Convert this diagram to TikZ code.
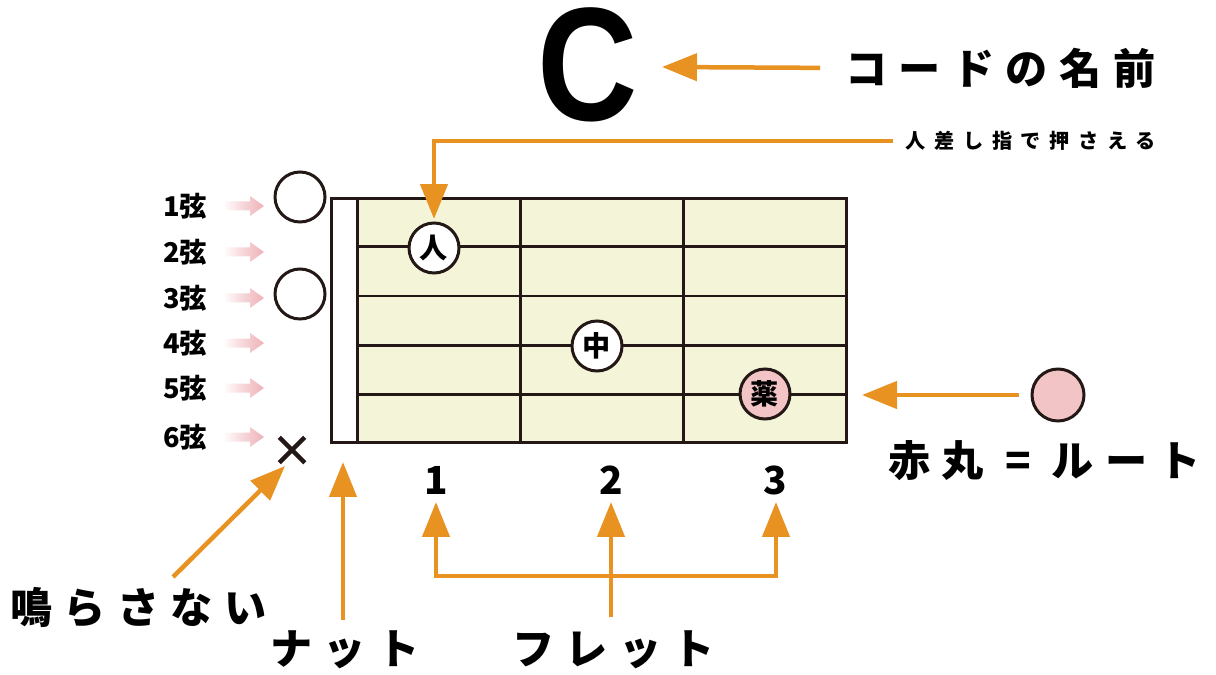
\documentclass[tikz,border=0pt]{standalone}
\usepackage{fontspec}
\setmainfont{Noto Sans CJK JP}
\newfontfamily\chordfont{Liberation Sans}
\usetikzlibrary{arrows.meta,shapes.misc}

\definecolor{fretorange}{RGB}{232,146,34}
\definecolor{boardfill}{RGB}{244,245,216}
\definecolor{inkbrown}{RGB}{35,24,21}
\definecolor{rootpink}{RGB}{242,196,198}
\definecolor{arrowpink}{RGB}{238,178,184}

% pink arrow pointing at a string, #1 = y
\newcommand{\stringarrow}[1]{%
    \shade[left color=white, right color=arrowpink, middle color=arrowpink!55]
        (223,#1-4.5) -- (250,#1-4.5) -- (250,#1-10) -- (264,#1) -- (250,#1+10) -- (250,#1+4.5) -- (223,#1+4.5) -- cycle;}

\tikzset{
    >={Triangle[length=0.7cm, width=0.54cm]},
    fretline/.style={inkbrown, line width=0.06cm},
    finger/.style={circle, draw=inkbrown, line width=0.06cm, fill=white, minimum size=1cm, inner sep=0pt, font=\fontsize{16}{16}\selectfont\bfseries},
    opencircle/.style={circle, draw=inkbrown, line width=0.06cm, minimum size=1cm, inner sep=0pt},
    mutemark/.style={cross out, draw=inkbrown, line width=0.09cm, minimum size=0.42cm, inner sep=0pt},
    callout/.style={fretorange, line width=0.09cm},
    biglabel/.style={anchor=west, inner sep=0pt, font=\fontsize{24}{24}\selectfont\bfseries\addfontfeature{LetterSpace=27}},
    smalllabel/.style={anchor=west, inner sep=0pt, font=\fontsize{11.5}{11.5}\selectfont\bfseries\addfontfeature{LetterSpace=43}},
    stringlabel/.style={inner sep=0pt, font=\fontsize{15.5}{15.5}\selectfont\bfseries},
    fretnum/.style={inner sep=0pt, font=\fontsize{22}{22}\selectfont\bfseries},
}

\begin{document}
\begin{tikzpicture}[x=0.02cm, y=-0.02cm]
        \useasboundingbox (0,0) rectangle (1216,675);

        % Board
        \fill[boardfill] (357,199) rectangle (846,442);
        \draw[fretline] (331,199) rectangle (846,442);
        \draw[fretline] (357,199) -- (357,442);
        \draw[fretline] (520,199) -- (520,442);
        \draw[fretline] (683,199) -- (683,442);
        \draw[fretline] (357,247) -- (846,247);
        \draw[fretline] (357,296) -- (846,296);
        \draw[fretline] (357,345) -- (846,345);
        \draw[fretline] (357,394) -- (846,394);

        % String pointers
        \stringarrow{206}
        \stringarrow{252}
        \stringarrow{298}
        \stringarrow{343}
        \stringarrow{388}
        \stringarrow{437}

        % Nodes
        \node (chord) [inner sep=0pt, xscale=0.86, font=\chordfont\bfseries\fontsize{92}{92}\selectfont] at (588,65) {C};
        \node (chordlabel) [biglabel] at (845,68) {コードの名前};
        \node (indexlabel) [smalllabel] at (905,141) {人差し指で押さえる};

        \node (index) [finger] at (434,248) {人};
        \node (middle) [finger] at (597,346) {中};
        \node (ring) [finger, fill=rootpink] at (765,394) {薬};

        \node (open1) [opencircle] at (300,197) {};
        \node (open3) [opencircle] at (300,294) {};
        \node (mute) [mutemark] at (292,450) {};

        \node (rootdot) [opencircle, fill=rootpink, minimum size=1.04cm] at (1058,395) {};
        \node (rootlabel) [biglabel] at (888,461) {赤丸 = ルート};

        \node (s1) [stringlabel] at (185,206) {1弦};
        \node (s2) [stringlabel] at (185,252) {2弦};
        \node (s3) [stringlabel] at (185,298) {3弦};
        \node (s4) [stringlabel] at (185,343) {4弦};
        \node (s5) [stringlabel] at (185,388) {5弦};
        \node (s6) [stringlabel] at (185,437) {6弦};

        \node (fret1) [fretnum] at (436,480) {1};
        \node (fret2) [fretnum] at (611,480) {2};
        \node (fret3) [fretnum] at (775,480) {3};

        \node (mutelabel) [biglabel] at (10,607) {鳴らさない};
        \node (nutlabel) [biglabel] at (270,650) {ナット};
        \node (fretlabel) [biglabel] at (512,650) {フレット};

        % Arrow ends
        \coordinate (chordtip) at (662,67);
        \coordinate (indextip) at (434,219);
        \coordinate (roottip) at (862,395);
        \coordinate (mutetail) at (173,577);
        \coordinate (mutetip) at (285,466);
        \coordinate (nuttail) at (343,620);
        \coordinate (nuttip) at (343,462);
        \coordinate (fret1tip) at (436,502);
        \coordinate (fret2tip) at (611,502);
        \coordinate (fret3tip) at (776,502);
        \coordinate (corner1) at (436,576);
        \coordinate (corner3) at (776,576);
        \coordinate (stem) at (611,617);

        % Edges
        \draw[callout, ->, shorten <=0.5cm] (chordlabel.west) -- (chordtip);
        \draw[callout, ->, shorten <=0.24cm] (indexlabel.west) -| (indextip);
        \draw[callout, ->, shorten <=0.24cm] (rootdot.west) -- (roottip);
        \draw[callout, ->] (mutetail) -- (mutetip);
        \draw[callout, ->] (nuttail) -- (nuttip);
        \draw[callout, <->] (fret1tip) -- (corner1) -- (corner3) -- (fret3tip);
        \draw[callout, ->] (stem) -- (fret2tip);

    \end{tikzpicture}
\end{document}
